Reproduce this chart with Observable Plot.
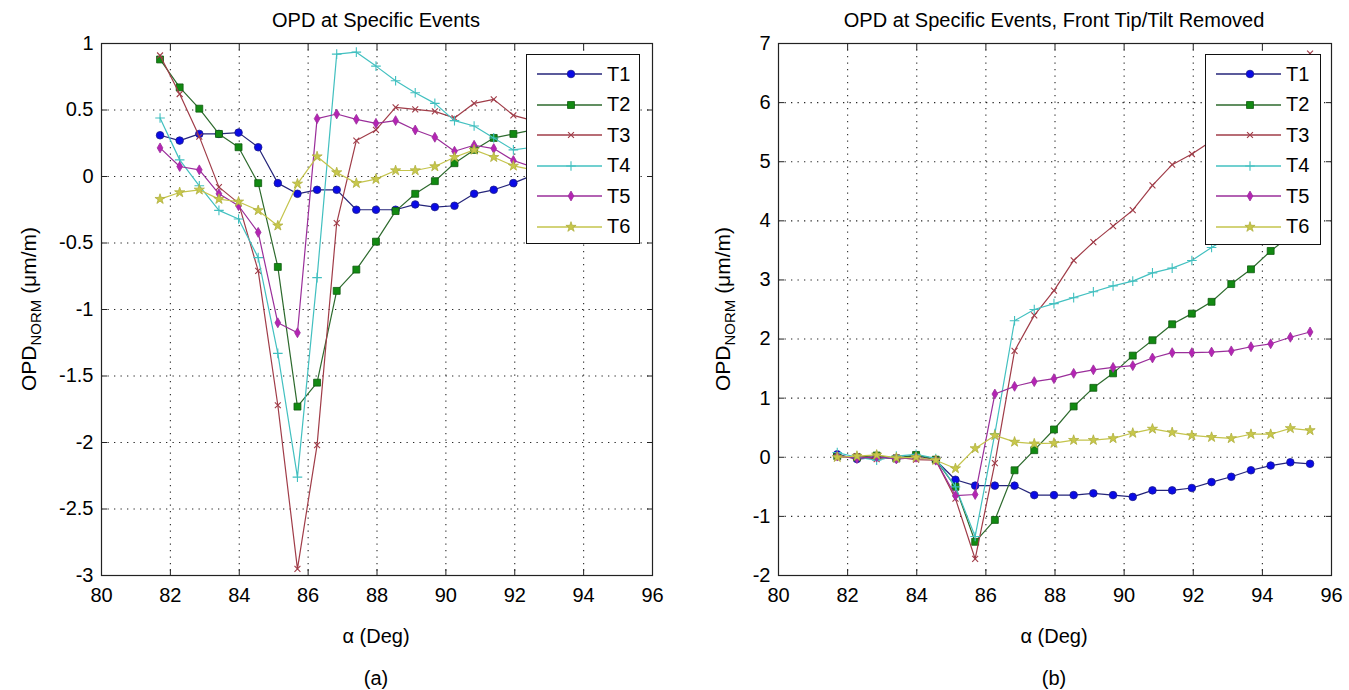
<!DOCTYPE html>
<html>
<head>
<meta charset="utf-8">
<script src="https://cdn.jsdelivr.net/npm/d3@7"></script>
<script src="https://cdn.jsdelivr.net/npm/@observablehq/plot@0.6"></script>
<style>
  html, body { margin: 0; padding: 0; background: #fff; }
  #wrap { position: relative; width: 1349px; height: 690px; background: #fff; overflow: hidden;
          font-family: "Liberation Sans", Arial, Helvetica, sans-serif; color: #000; }
  .abs { position: absolute; white-space: nowrap; }
  .ctr { transform: translate(-50%, -50%); }
  .ylab { transform: translate(-50%, -50%) rotate(-90deg); font-size: 21px; }
  .ylab sub { font-size: 15px; vertical-align: -5px; }
  .legend { position: absolute; background: #fff; border: 1.3px solid #111; box-sizing: border-box; }
  .legend .row { position: absolute; left: 0; height: 24px; display: flex; align-items: center; }
  .legend .row span { font-size: 20px; margin-left: 4px; }
</style>
</head>
<body>
<div id="wrap">
  <div id="pa" class="abs" style="left:0;top:0"></div>
  <div id="pb" class="abs" style="left:680px;top:0"></div>
  <div class="abs ctr" style="left:376px;top:20px;font-size:20px">OPD at Specific Events</div>
  <div class="abs ctr" style="left:1054px;top:20px;font-size:20px">OPD at Specific Events, Front Tip/Tilt Removed</div>
  <div class="abs ylab" style="left:30px;top:309px">OPD<sub>NORM</sub> (μm/m)</div>
  <div class="abs ylab" style="left:724px;top:309px">OPD<sub>NORM</sub> (μm/m)</div>
  <div class="abs ctr" style="left:376px;top:636px;font-size:20px">α (Deg)</div>
  <div class="abs ctr" style="left:1054px;top:636px;font-size:20px">α (Deg)</div>
  <div class="abs ctr" style="left:376px;top:678px;font-size:20px">(a)</div>
  <div class="abs ctr" style="left:1054px;top:678px;font-size:20px">(b)</div>
  <div id="lega" class="legend" style="left:526px;top:54px;width:114px;height:190px"></div>
  <div id="legb" class="legend" style="left:1205px;top:54px;width:116px;height:191px"></div>
</div>
<script>
// ---- data ----
const seriesNames = ["T1", "T2", "T3", "T4", "T5", "T6"];
const alpha = [81.70, 82.27, 82.84, 83.41, 83.98, 84.55, 85.12, 85.69, 86.26, 86.83,
               87.40, 87.97, 88.54, 89.11, 89.68, 90.25, 90.82, 91.39, 91.96, 92.53,
               93.10, 93.67, 94.24, 94.81, 95.38];
const xTicks = [80, 82, 84, 86, 88, 90, 92, 94, 96];
const yTicksA = [-3, -2.5, -2, -1.5, -1, -0.5, 0, 0.5, 1];
const yTicksB = [-2, -1, 0, 1, 2, 3, 4, 5, 6, 7];

// (a) OPD at specific events
const a_T1 = [0.31, 0.27, 0.32, 0.32, 0.33, 0.22, -0.05, -0.13, -0.10, -0.10, -0.25, -0.25, -0.25, -0.21, -0.23, -0.22, -0.13, -0.10, -0.05, 0.01, 0.05];
const a_T2 = [0.88, 0.67, 0.51, 0.32, 0.22, -0.05, -0.68, -1.73, -1.55, -0.86, -0.70, -0.49, -0.26, -0.13, -0.035, 0.10, 0.20, 0.29, 0.32, 0.35, 0.37];
const a_T3 = [0.91, 0.62, 0.30, -0.08, -0.20, -0.71, -1.72, -2.95, -2.02, -0.35, 0.27, 0.35, 0.52, 0.505, 0.49, 0.44, 0.55, 0.58, 0.46, 0.42, 0.40];
const a_T4 = [0.44, 0.125, -0.07, -0.255, -0.32, -0.61, -1.33, -2.26, -0.76, 0.92, 0.935, 0.83, 0.72, 0.63, 0.55, 0.42, 0.38, 0.29, 0.20, 0.22, 0.20];
const a_T5 = [0.215, 0.075, 0.05, -0.13, -0.22, -0.42, -1.10, -1.175, 0.435, 0.47, 0.43, 0.40, 0.42, 0.35, 0.295, 0.19, 0.235, 0.21, 0.12, 0.07, 0.05];
const a_T6 = [-0.17, -0.12, -0.10, -0.17, -0.19, -0.255, -0.37, -0.055, 0.15, 0.03, -0.05, -0.02, 0.045, 0.045, 0.075, 0.145, 0.20, 0.145, 0.08, 0.05, 0.03];

// (b) front tip/tilt removed
const b_T1 = [0.05, -0.03, 0.0, -0.02, 0.03, -0.05, -0.38, -0.48, -0.48, -0.48, -0.64, -0.64, -0.64, -0.61, -0.64, -0.67, -0.56, -0.56, -0.52, -0.42, -0.33, -0.22, -0.14, -0.085, -0.11];
const b_T2 = [0.02, 0.0, 0.03, -0.02, 0.04, -0.04, -0.5, -1.43, -1.06, -0.22, 0.12, 0.47, 0.86, 1.175, 1.42, 1.72, 1.98, 2.25, 2.43, 2.63, 2.93, 3.18, 3.49, 3.75, 4.0];
const b_T3 = [0.0, 0.02, -0.03, 0.0, -0.04, -0.05, -0.7, -1.72, -0.1, 1.8, 2.4, 2.82, 3.33, 3.64, 3.91, 4.18, 4.60, 4.95, 5.13, 5.35, 5.6, 5.9, 6.2, 6.5, 6.83];
const b_T4 = [0.08, 0.0, -0.05, 0.02, 0.05, -0.02, -0.5, -1.34, 0.4, 2.31, 2.5, 2.6, 2.7, 2.8, 2.9, 2.98, 3.12, 3.2, 3.33, 3.55, 3.75, 3.9, 4.1, 4.3, 4.5];
const b_T5 = [0.02, -0.02, 0.01, -0.03, 0.0, -0.05, -0.65, -0.63, 1.07, 1.2, 1.28, 1.33, 1.42, 1.48, 1.52, 1.55, 1.68, 1.77, 1.77, 1.78, 1.8, 1.87, 1.92, 2.03, 2.12];
const b_T6 = [0.0, 0.02, 0.04, -0.01, 0.0, -0.05, -0.19, 0.15, 0.37, 0.26, 0.23, 0.24, 0.29, 0.29, 0.32, 0.41, 0.48, 0.42, 0.37, 0.34, 0.32, 0.39, 0.39, 0.49, 0.455];

// ---- styles ----
const styles = {
  T1: {line: "#25257a", fill: "#0a0ae6", stroke: "#1c1c8c", symbol: "circle", r: 3.8},
  T2: {line: "#2d6a2d", fill: "#128a12", stroke: "#0f5a0f", symbol: "square", r: 3.9},
  T3: {line: "#a03c48", fill: "none", stroke: "#a03c48", symbol: "times", r: 2.8},
  T4: {line: "#42c0c0", fill: "none", stroke: "#42c0c0", symbol: "plus", r: 3.2},
  T5: {line: "#9a2e9a", fill: "#b424b4", stroke: "#9a2e9a", symbol: "diamond", r: 3.0},
  T6: {line: "#c4c44c", fill: "#c8c84a", stroke: "#b0b040", symbol: "star", r: 3.2}
};
const FONT = '"Liberation Sans", Arial, Helvetica, sans-serif';

function table(seriesArrays) {
  const rows = [];
  seriesNames.forEach((name, k) => {
    seriesArrays[k].forEach((v, i) => rows.push({alpha: alpha[i], opd: v, series: name}));
  });
  return rows;
}

function panel({rows, yDomain, yTicks, width, marginLeft, marginRight}) {
  const grid = {stroke: "#000", strokeOpacity: 0.85, strokeWidth: 1.1, strokeDasharray: "1.3,5.2"};
  const marks = [
    Plot.gridX(xTicks.slice(1, -1), grid),
    Plot.gridY(yTicks.slice(1, -1), grid)
  ];
  for (const name of seriesNames) {
    const st = styles[name];
    const d = rows.filter(r => r.series === name);
    marks.push(Plot.line(d, {x: "alpha", y: "opd", stroke: st.line, strokeWidth: 1.2}));
    marks.push(Plot.dot(d, {x: "alpha", y: "opd", symbol: st.symbol, r: st.r, fill: st.fill,
                             stroke: st.stroke, strokeWidth: st.fill === "none" ? 1.1 : 0.8}));
  }
  const fmt = d => String(d);
  const none = () => "";
  marks.push(
    Plot.frame({stroke: "#222", strokeWidth: 1.2}),
    Plot.axisX(xTicks, {anchor: "bottom", tickSize: 6, dy: -6, tickFormat: none, label: null, stroke: "#222"}),
    Plot.axisX(xTicks, {anchor: "top", tickSize: 6, dy: 6, tickFormat: none, label: null, stroke: "#222"}),
    Plot.axisY(yTicks, {anchor: "left", tickSize: 6, dx: 6, tickFormat: none, label: null, stroke: "#222"}),
    Plot.axisY(yTicks, {anchor: "right", tickSize: 6, dx: -6, tickFormat: none, label: null, stroke: "#222"}),
    Plot.axisX(xTicks, {anchor: "bottom", tickSize: 0, tickPadding: 12, tickFormat: fmt, label: null}),
    Plot.axisY(yTicks, {anchor: "left", tickSize: 0, tickPadding: 8, tickFormat: fmt, label: null})
  );
  return Plot.plot({
    width, height: 690,
    marginLeft, marginRight, marginTop: 43, marginBottom: 115,
    x: {domain: [80, 96]},
    y: {domain: yDomain},
    style: {fontFamily: FONT, fontSize: "20px", background: "transparent", color: "#000", overflow: "visible"},
    marks
  });
}

document.getElementById("pa").append(panel({
  rows: table([a_T1, a_T2, a_T3, a_T4, a_T5, a_T6]),
  yDomain: [-3, 1], yTicks: yTicksA, width: 680, marginLeft: 101, marginRight: 28
}));
document.getElementById("pb").append(panel({
  rows: table([b_T1, b_T2, b_T3, b_T4, b_T5, b_T6]),
  yDomain: [-2, 7], yTicks: yTicksB, width: 669, marginLeft: 98, marginRight: 18
}));

// ---- legends ----
const symbolTypes = {circle: d3.symbolCircle, square: d3.symbolSquare, times: d3.symbolTimes,
                     plus: d3.symbolPlus, diamond: d3.symbolDiamond, star: d3.symbolStar};
function legend(el) {
  seriesNames.forEach((name, k) => {
    const st = styles[name];
    const row = document.createElement("div");
    row.className = "row";
    row.style.top = (7 + k * 30.5) + "px";
    const svg = d3.create("svg").attr("width", 76).attr("height", 24);
    svg.append("line").attr("x1", 10).attr("x2", 75).attr("y1", 12).attr("y2", 12)
      .attr("stroke", st.line).attr("stroke-width", 1.4);
    svg.append("path").attr("transform", "translate(44,12)")
      .attr("d", d3.symbol(symbolTypes[st.symbol], st.r * st.r * Math.PI)())
      .attr("fill", st.fill).attr("stroke", st.stroke)
      .attr("stroke-width", st.fill === "none" ? 1.1 : 0.8);
    row.append(svg.node());
    const t = document.createElement("span");
    t.textContent = name;
    row.append(t);
    el.append(row);
  });
}
legend(document.getElementById("lega"));
legend(document.getElementById("legb"));
</script>
</body>
</html>
